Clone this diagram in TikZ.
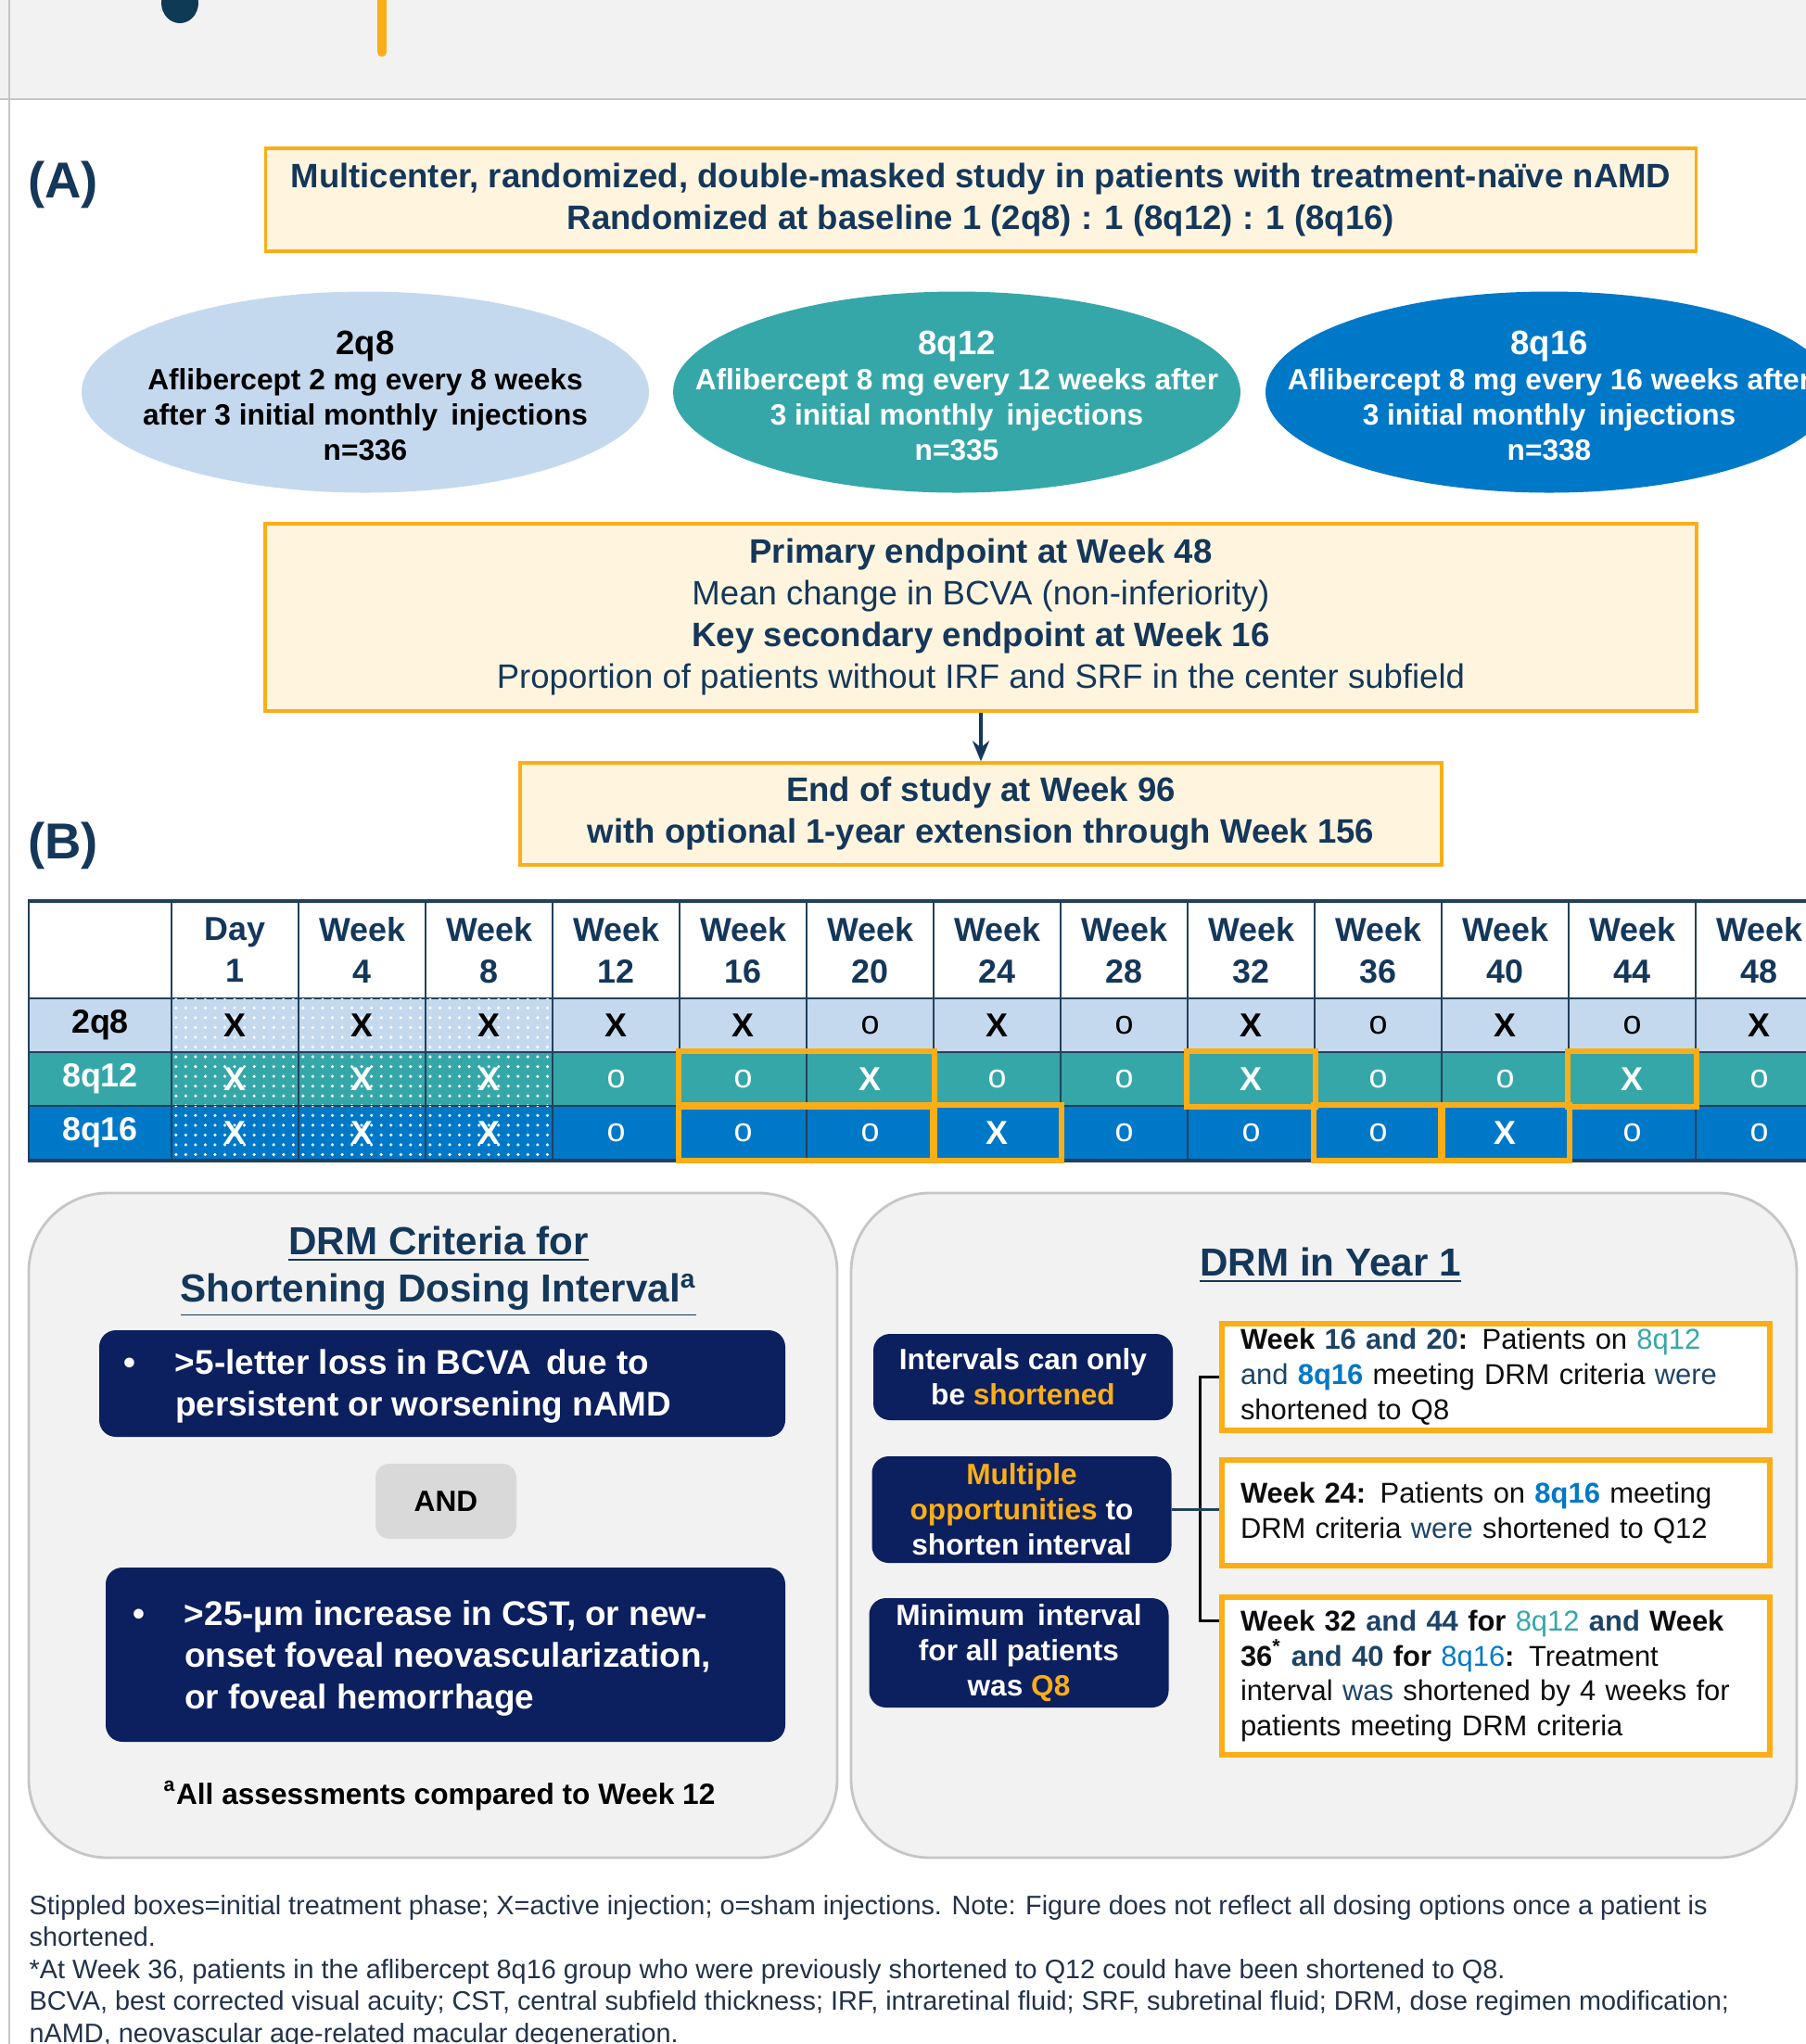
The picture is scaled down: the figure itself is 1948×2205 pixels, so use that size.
\documentclass[tikz,border=0pt]{standalone}
\usepackage{fontspec}
\setmainfont{Liberation Sans}
\usetikzlibrary{arrows.meta,positioning,shapes.geometric,patterns}
\definecolor{navyInk}{HTML}{14375A}
\definecolor{slateInk}{HTML}{1D4466}
\definecolor{amber}{HTML}{FBAE17}
\definecolor{cream}{HTML}{FFF5DF}
\definecolor{paleBlue}{HTML}{C5D9EE}
\definecolor{tealArm}{HTML}{36A7A9}
\definecolor{blueArm}{HTML}{0078C8}
\definecolor{deepNavy}{HTML}{0C1F5E}
\definecolor{panelGray}{HTML}{F2F2F2}
\definecolor{edgeGray}{HTML}{C6C6C6}
\definecolor{andGray}{HTML}{D9D9D9}
\definecolor{gridNavy}{HTML}{22405C}
\definecolor{footInk}{HTML}{23324A}
\definecolor{dotNavy}{HTML}{0F3A55}
\definecolor{inkBlack}{HTML}{0D0D0D}

\begin{document}
\begin{tikzpicture}[
    x=0.1mm, y=-0.1mm,
    panelab/.style={inner sep=0pt, font=\fontsize{15.5}{18}\selectfont\bfseries\color{navyInk}},
    studybox/.style={draw=amber, line width=1pt, fill=cream, align=center, inner sep=0pt, font=\fontsize{10.4}{12.8}\selectfont\color{navyInk}},
    arm/.style={ellipse, draw=none, inner sep=0pt, minimum width=61.2mm, minimum height=21.7mm},
    armtext/.style={align=center, inner sep=0pt, font=\fontsize{9}{10.8}\selectfont\bfseries},
    line/.style={draw=navyInk, line width=1.1pt, -{Stealth[length=2.2mm, width=1.8mm]}},
    cell/.style={draw=gridNavy, line width=0.6pt, minimum width=13.7mm, minimum height=5.8mm, inner sep=0pt, align=center, font=\fontsize{10.2}{12.8}\selectfont\bfseries},
    wide/.style={minimum width=15.4mm},
    hdcell/.style={cell, fill=white, minimum height=10.4mm, text=navyInk},
    rowA/.style={cell, fill=paleBlue, text=black},
    rowB/.style={cell, fill=tealArm, text=white},
    rowC/.style={cell, fill=blueArm, text=white},
    stip/.style={postaction={pattern=dots, pattern color=white}},
    hilite/.style={draw=amber, line width=1.8pt},
    panel/.style={draw=edgeGray, line width=0.8pt, fill=panelGray, rounded corners=8.5mm, minimum height=71.7mm, inner sep=0pt},
    paneltitle/.style={align=center, inner sep=0pt, font=\fontsize{12}{14.5}\selectfont\bfseries\color{navyInk}},
    navybox/.style={fill=deepNavy, rounded corners=1.8mm, inner sep=0pt},
    crittext/.style={align=left, inner sep=0pt, font=\fontsize{10.5}{12.8}\selectfont\bfseries\color{white}},
    andbox/.style={fill=andGray, rounded corners=1.5mm, minimum width=15.2mm, minimum height=8.1mm, inner sep=0pt, font=\fontsize{9}{11}\selectfont\bfseries},
    ivbox/.style={navybox, align=center, minimum width=32.3mm, font=\fontsize{9}{10.8}\selectfont\bfseries\color{white}},
    notebox/.style={draw=amber, line width=1.8pt, fill=white, align=left, text width=55.1mm, inner xsep=2mm, inner ysep=0pt, font=\fontsize{8.8}{10.8}\selectfont\color{inkBlack}},
    bracket/.style={draw=black, line width=0.9pt},
    link/.style={draw=gridNavy, line width=0.9pt},
    fnote/.style={inner sep=0pt, font=\fontsize{9}{11}\selectfont\bfseries\color{black}},
    footer/.style={align=left, inner sep=0pt, anchor=base west, font=\fontsize{8.2}{9.8}\selectfont\color{footInk}}
  ]
    \useasboundingbox (0,0) rectangle (1948,2205);
    \fill[white] (0,0) rectangle (1948,2205);

    % Header band
    \fill[panelGray] (0,0) rectangle (1948,107);
    \draw[edgeGray, line width=0.6pt] (0,107) -- (1948,107);
    \draw[edgeGray, line width=0.8pt] (10,0) -- (10,2205);
    \fill[dotNavy] (194,3) ellipse (2mm and 2.2mm);
    \draw[amber, line width=3pt, line cap=round] (412,0) -- (412,56);

    % Panel A
    \node[panelab] (labA) at (68,199) {(A)};
    \node[studybox, font=\fontsize{10.4}{12.8}\selectfont\bfseries\color{navyInk}, minimum width=154.3mm, minimum height=11.1mm] (study) at (1058,215.5) {Multicenter, randomized, double-masked study in patients with treatment-naïve nAMD\\Randomized at baseline 1 (2q8) : 1 (8q12) : 1 (8q16)};

    \node[arm, fill=paleBlue] (arm2q8) at (394,423) {};
    \node[arm, fill=tealArm] (arm8q12) at (1032,423) {};
    \node[arm, fill=blueArm] (arm8q16) at (1671,423) {};
    \node[armtext, text=black] (txt2q8) at (394,427) {{\fontsize{10.4}{12}\selectfont 2q8}\\Aflibercept 2 mg every 8 weeks\\after 3 initial monthly\, injections\\n=336};
    \node[armtext, text=white] (txt8q12) at (1032,427) {{\fontsize{10.4}{12}\selectfont 8q12}\\Aflibercept 8 mg every 12 weeks after\\3 initial monthly\, injections\\n=335};
    \node[armtext, text=white] (txt8q16) at (1671,427) {{\fontsize{10.4}{12}\selectfont 8q16}\\Aflibercept 8 mg every 16 weeks after\\3 initial monthly\, injections\\n=338};

    \node[studybox, minimum width=154.4mm, minimum height=20.2mm] (endp) at (1058,666) {\textbf{Primary endpoint at Week 48}\\Mean change in BCVA (non-inferiority)\\\textbf{Key secondary endpoint at Week 16}\\Proportion of patients without IRF and SRF in the center subfield};
    \node[studybox, font=\fontsize{10.4}{12.8}\selectfont\bfseries\color{navyInk}, minimum width=99.4mm, minimum height=11mm] (eos) at (1058,878) {End of study at Week 96\\with optional 1-year extension through Week 156};
    \draw[line] (endp) -- (eos);

    % Panel B: header row
    \node[panelab] (labB) at (68,912) {(B)};
    \node[hdcell, wide] (h0) at (108,1025) {};
    \node[hdcell] (h1) at (253.5,1025) {Day\\1};
    \node[hdcell] (h2) at (390.5,1025) {Week\\4};
    \node[hdcell] (h3) at (527.5,1025) {Week\\8};
    \node[hdcell] (h4) at (664.5,1025) {Week\\12};
    \node[hdcell] (h5) at (801.5,1025) {Week\\16};
    \node[hdcell] (h6) at (938.5,1025) {Week\\20};
    \node[hdcell] (h7) at (1075.5,1025) {Week\\24};
    \node[hdcell] (h8) at (1212.5,1025) {Week\\28};
    \node[hdcell] (h9) at (1349.5,1025) {Week\\32};
    \node[hdcell] (h10) at (1486.5,1025) {Week\\36};
    \node[hdcell] (h11) at (1623.5,1025) {Week\\40};
    \node[hdcell] (h12) at (1760.5,1025) {Week\\44};
    \node[hdcell] (h13) at (1897.5,1025) {Week\\48};

    % Row 2q8
    \node[rowA, wide] (a0) at (108,1106) {2q8};
    \node[rowA, stip] (a1) at (253.5,1106) {X};
    \node[rowA, stip] (a2) at (390.5,1106) {X};
    \node[rowA, stip] (a3) at (527.5,1106) {X};
    \node[rowA] (a4) at (664.5,1106) {X};
    \node[rowA] (a5) at (801.5,1106) {X};
    \node[rowA] (a6) at (938.5,1106) {\mdseries o};
    \node[rowA] (a7) at (1075.5,1106) {X};
    \node[rowA] (a8) at (1212.5,1106) {\mdseries o};
    \node[rowA] (a9) at (1349.5,1106) {X};
    \node[rowA] (a10) at (1486.5,1106) {\mdseries o};
    \node[rowA] (a11) at (1623.5,1106) {X};
    \node[rowA] (a12) at (1760.5,1106) {\mdseries o};
    \node[rowA] (a13) at (1897.5,1106) {X};

    % Row 8q12
    \node[rowB, wide] (b0) at (108,1164) {8q12};
    \node[rowB, stip] (b1) at (253.5,1164) {X};
    \node[rowB, stip] (b2) at (390.5,1164) {X};
    \node[rowB, stip] (b3) at (527.5,1164) {X};
    \node[rowB] (b4) at (664.5,1164) {\mdseries o};
    \node[rowB] (b5) at (801.5,1164) {\mdseries o};
    \node[rowB] (b6) at (938.5,1164) {X};
    \node[rowB] (b7) at (1075.5,1164) {\mdseries o};
    \node[rowB] (b8) at (1212.5,1164) {\mdseries o};
    \node[rowB] (b9) at (1349.5,1164) {X};
    \node[rowB] (b10) at (1486.5,1164) {\mdseries o};
    \node[rowB] (b11) at (1623.5,1164) {\mdseries o};
    \node[rowB] (b12) at (1760.5,1164) {X};
    \node[rowB] (b13) at (1897.5,1164) {\mdseries o};

    % Row 8q16
    \node[rowC, wide] (c0) at (108,1222) {8q16};
    \node[rowC, stip] (c1) at (253.5,1222) {X};
    \node[rowC, stip] (c2) at (390.5,1222) {X};
    \node[rowC, stip] (c3) at (527.5,1222) {X};
    \node[rowC] (c4) at (664.5,1222) {\mdseries o};
    \node[rowC] (c5) at (801.5,1222) {\mdseries o};
    \node[rowC] (c6) at (938.5,1222) {\mdseries o};
    \node[rowC] (c7) at (1075.5,1222) {X};
    \node[rowC] (c8) at (1212.5,1222) {\mdseries o};
    \node[rowC] (c9) at (1349.5,1222) {\mdseries o};
    \node[rowC] (c10) at (1486.5,1222) {\mdseries o};
    \node[rowC] (c11) at (1623.5,1222) {X};
    \node[rowC] (c12) at (1760.5,1222) {\mdseries o};
    \node[rowC] (c13) at (1897.5,1222) {\mdseries o};

    % Table rules and DRM highlights
    \draw[gridNavy, line width=1.2pt] (h0.north west) -- (h13.north east);
    \draw[gridNavy, line width=1.2pt] (c0.south west) -- (c13.south east);
    \draw[hilite] (b5.north west) rectangle (b6.south east);
    \draw[hilite] (c5.north west) rectangle (c6.south east);
    \draw[hilite] (c7.north west) rectangle (c7.south east);
    \draw[hilite] (b9.north west) rectangle (b9.south east);
    \draw[hilite] (c10.north west) rectangle (c10.south east);
    \draw[hilite] (c11.north west) rectangle (c11.south east);
    \draw[hilite] (b12.north west) rectangle (b12.south east);

    % Left panel: DRM criteria
    \node[panel, minimum width=87.2mm] (lpanel) at (467,1645.5) {};
    \node[paneltitle] (ltitle) at (473,1372) {\underline{DRM Criteria for}\\\underline{Shortening Dosing Interval\textsuperscript{a}}};
    \node[navybox, minimum width=74mm, minimum height=11.5mm] (crit1) at (477,1492.5) {};
    \node[crittext, anchor=west] (crit1t) at ([xshift=2.6mm, yshift=-0.3mm]crit1.west) {\makebox[5.6mm][l]{\textbullet}>5-letter loss in BCVA\, due to\\\makebox[5.6mm]{}persistent or worsening nAMD};
    \node[andbox] (and) at (481,1619.5) {AND};
    \node[navybox, minimum width=73.3mm, minimum height=18.8mm] (crit2) at (480.5,1785) {};
    \node[crittext, anchor=west] (crit2t) at ([xshift=2.9mm, yshift=-0.4mm]crit2.west) {\makebox[5.6mm][l]{\textbullet}>25-µm increase in CST, or new-\\\makebox[5.6mm]{}onset foveal neovascularization,\\\makebox[5.6mm]{}or foveal hemorrhage};
    \node[fnote] (allw12) at (474,1937) {\textsuperscript{a}All assessments compared to Week 12};

    % Right panel: DRM in year 1
    \node[panel, minimum width=102mm] (rpanel) at (1428,1645.5) {};
    \node[paneltitle] (rtitle) at (1435,1365) {\underline{DRM in Year 1}};
    \node[ivbox, minimum height=9.3mm] (ivA) at (1103.5,1485.5) {Intervals can only\\be \textcolor{amber}{shortened}};
    \node[ivbox, minimum height=11.5mm] (ivB) at (1102,1628.5) {\textcolor{amber}{Multiple}\\\textcolor{amber}{opportunities} to\\shorten interval};
    \node[ivbox, minimum height=11.8mm] (ivC) at (1099,1783) {Minimum\, interval\\for all patients\\was \textcolor{amber}{Q8}};
    \node[notebox, minimum height=11.5mm] (wk1620) at (1613.5,1485.5) {\textbf{Week \textcolor{slateInk}{16 and 20}:} Patients on \textcolor{tealArm}{8q12}\\\textcolor{slateInk}{and} \textbf{\textcolor{blueArm}{8q16}} meeting DRM criteria \textcolor{slateInk}{were}\\shortened to Q8};
    \node[notebox, minimum height=11.4mm] (wk24) at (1613.5,1632) {\textbf{Week 24:} Patients on \textbf{\textcolor{blueArm}{8q16}} meeting\\DRM criteria \textcolor{slateInk}{were} shortened to Q12};
    \node[notebox, minimum height=17mm] (wk32) at (1613.5,1808) {\textbf{Week 32 \textcolor{slateInk}{and 44} for \textcolor{tealArm}{\mdseries 8q12} \textcolor{slateInk}{and} Week}\\\textbf{36\textsuperscript{*} \textcolor{slateInk}{and 40} for \textcolor{blueArm}{\mdseries 8q16}:} Treatment\\interval \textcolor{slateInk}{was} shortened by 4 weeks for\\patients meeting DRM criteria};
    \draw[bracket] (wk1620.west) -- ++(-2mm,0) |- ([yshift=-2.9mm]wk32.north west);
    \draw[link] (ivB.east) -- (ivB.east -| wk24.west);

    % Footnotes
    \node[footer] (notes) at (31,2203) {Stippled boxes=initial treatment phase; X=active injection; o=sham injections. Note: Figure does not reflect all dosing options once a patient is\\shortened.\\*At Week 36, patients in the aflibercept 8q16 group who were previously shortened to Q12 could have been shortened to Q8.\\BCVA, best corrected visual acuity; CST, central subfield thickness; IRF, intraretinal fluid; SRF, subretinal fluid; DRM, dose regimen modification;\\nAMD, neovascular age-related macular degeneration.};
  \end{tikzpicture}
\end{document}
